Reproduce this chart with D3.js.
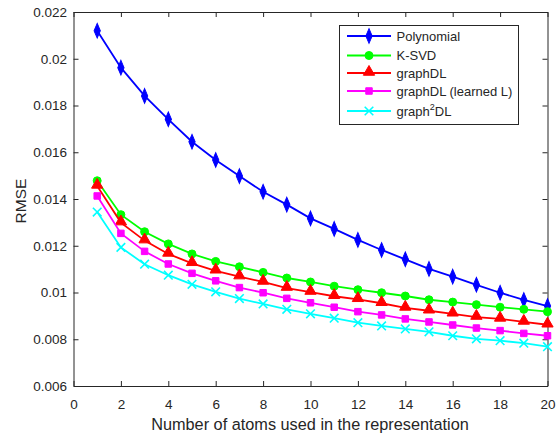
<!DOCTYPE html>
<html>
<head>
<meta charset="utf-8">
<script src="https://cdn.jsdelivr.net/npm/d3@7"></script>
<style>
  body { margin: 0; background: #fff; }
  text { font-family: "Liberation Sans", Arial, sans-serif; fill: #262626; }
</style>
</head>
<body>
<div id="viz"></div>
<script>
// Data
const atoms = d3.range(1, 21)
const polynomial = [0.0212, 0.01962, 0.01841, 0.01741, 0.01645, 0.01567, 0.01498, 0.01431, 0.01376, 0.01317,
  0.01272, 0.01225, 0.01182, 0.01142, 0.01101, 0.01068, 0.01033, 0.00999, 0.00968, 0.00942]
const ksvd = [0.01478, 0.01333, 0.0126, 0.01208, 0.01165, 0.01133, 0.0111, 0.01086, 0.01062, 0.01045,
  0.01027, 0.01012, 0.00999, 0.00985, 0.00969, 0.00959, 0.00948, 0.00937, 0.00928, 0.00918]
const graphDL = [0.01456, 0.01299, 0.01222, 0.01165, 0.01125, 0.01093, 0.01068, 0.01045, 0.01019, 0.01002,
  0.00984, 0.00971, 0.00954, 0.00934, 0.00922, 0.00909, 0.00895, 0.00887, 0.00874, 0.00862]
const graphDLLearned = [0.01413, 0.01253, 0.01176, 0.01122, 0.01082, 0.0105, 0.01021, 0.00999, 0.00975, 0.00956,
  0.00937, 0.00918, 0.00904, 0.00887, 0.00874, 0.00861, 0.00848, 0.00837, 0.00825, 0.00815]
const graph2DL = [0.01344, 0.01193, 0.01121, 0.01074, 0.01035, 0.01003, 0.00974, 0.00951, 0.00928, 0.00909,
  0.0089, 0.00871, 0.00857, 0.00844, 0.00832, 0.00815, 0.00802, 0.00794, 0.00783, 0.00768]
const xTicks = d3.range(0, 21, 2)
const yTicks = [0.006, 0.008, 0.01, 0.012, 0.014, 0.016, 0.018, 0.02, 0.022]

const series = [
  { name: "Polynomial", values: polynomial, color: "#0000ff", marker: "diamond" },
  { name: "K-SVD", values: ksvd, color: "#00ff00", marker: "circle" },
  { name: "graphDL", values: graphDL, color: "#ff0000", marker: "triangle" },
  { name: "graphDL (learned L)", values: graphDLLearned, color: "#ff00ff", marker: "square" },
  { name: "graph2DL", values: graph2DL, color: "#00ffff", marker: "x" }
]

const width = 557
const height = 434
const margin = { left: 73.5, right: 9.5, top: 12, bottom: 48 }

const svg = d3.select("#viz").append("svg")
  .attr("width", width)
  .attr("height", height)

const x = d3.scaleLinear().domain([0, 20]).range([margin.left, width - margin.right])
const y = d3.scaleLinear().domain([0.006, 0.022]).range([height - margin.bottom, margin.top])

const axisColor = "#262626"

// ticks drawn inward, mirrored on top/right like MATLAB
function styleAxis(g) {
  g.select(".domain").attr("stroke", axisColor)
  g.selectAll(".tick line").attr("stroke", axisColor)
  g.selectAll(".tick text").attr("font-size", 13.5).attr("fill", axisColor)
}

svg.append("g")
  .attr("transform", `translate(0,${y.range()[0]})`)
  .call(d3.axisBottom(x).tickValues(xTicks).tickSizeInner(-5).tickSizeOuter(0).tickPadding(13))
  .call(styleAxis)
svg.append("g")
  .attr("transform", `translate(0,${y.range()[1]})`)
  .call(d3.axisTop(x).tickValues(xTicks).tickSizeInner(-5).tickSizeOuter(0).tickFormat(""))
  .call(styleAxis)
svg.append("g")
  .attr("transform", `translate(${x.range()[0]},0)`)
  .call(d3.axisLeft(y).tickValues(yTicks).tickSizeInner(-5).tickSizeOuter(0).tickPadding(6.5).tickFormat(d => d3.format("")(+d.toFixed(3))))
  .call(styleAxis)
svg.append("g")
  .attr("transform", `translate(${x.range()[1]},0)`)
  .call(d3.axisRight(y).tickValues(yTicks).tickSizeInner(-5).tickSizeOuter(0).tickFormat(""))
  .call(styleAxis)

// axis labels
svg.append("text")
  .attr("x", 310)
  .attr("y", 429.5)
  .attr("text-anchor", "middle")
  .attr("font-size", 16.3)
  .text("Number of atoms used in the representation")
svg.append("text")
  .attr("transform", `translate(26,201) rotate(-90)`)
  .attr("text-anchor", "middle")
  .attr("font-size", 15.5)
  .text("RMSE")

const symbols = {
  diamond: d3.symbol().type(d3.symbolDiamond).size(48),
  circle: d3.symbol().type(d3.symbolCircle).size(50),
  triangle: d3.symbol().type(d3.symbolTriangle).size(55),
  square: d3.symbol().type(d3.symbolSquare).size(42),
  x: d3.symbol().type(d3.symbolX).size(50)
}

function drawMarker(g, s, cx, cy) {
  const p = g.append("path")
    .attr("d", symbols[s.marker]())
    .attr("transform", s.marker === "diamond"
      ? `translate(${cx},${cy}) scale(0.85,1.15)`
      : s.marker === "triangle" ? `translate(${cx},${cy - 1})` : `translate(${cx},${cy})`)
  if (s.marker === "x") {
    p.attr("fill", "none").attr("stroke", s.color).attr("stroke-width", 1.6)
  } else {
    p.attr("fill", s.color).attr("stroke", s.color).attr("stroke-width", 1)
  }
}

const line = d3.line().x((d, i) => x(atoms[i])).y(d => y(d))

series.forEach(s => {
  svg.append("path")
    .datum(s.values)
    .attr("d", line)
    .attr("fill", "none")
    .attr("stroke", s.color)
    .attr("stroke-width", 1.8)
  const g = svg.append("g")
  s.values.forEach((v, i) => drawMarker(g, s, x(atoms[i]), y(v)))
})

// legend
const legend = svg.append("g")
legend.append("rect")
  .attr("x", 339.5).attr("y", 25.5)
  .attr("width", 179).attr("height", 99)
  .attr("fill", "#fff")
  .attr("stroke", axisColor)
  .attr("stroke-width", 1)

const rowY = [36, 55.5, 73, 91, 111]
series.forEach((s, i) => {
  const ly = rowY[i]
  legend.append("line")
    .attr("x1", 347).attr("x2", 391)
    .attr("y1", ly).attr("y2", ly)
    .attr("stroke", s.color).attr("stroke-width", 1.8)
  drawMarker(legend, s, 369, ly)
  const t = legend.append("text")
    .attr("x", 396.5).attr("y", ly + 4.5)
    .attr("font-size", 13)
  if (s.name === "graph2DL") {
    t.append("tspan").text("graph")
    t.append("tspan").attr("font-size", 9).attr("dy", -6).text("2")
    t.append("tspan").attr("dy", 6).text("DL")
  } else {
    t.text(s.name)
  }
})
</script>
</body>
</html>
